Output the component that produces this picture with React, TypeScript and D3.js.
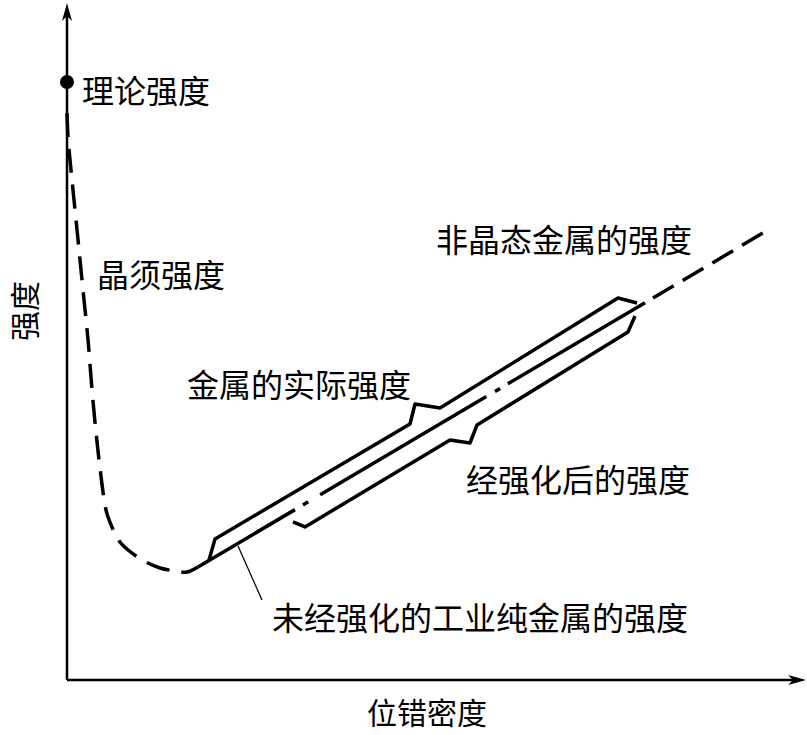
import React from "react";
import * as d3 from "d3";

// ---- data (arbitrary units: dislocation density on x, strength on y) ----
const xDomain: [number, number] = [0, 10];
const yDomain: [number, number] = [0, 10];

const theoreticalPoint: [number, number] = [0, 8.86];

// dashed curve: whisker strength falling to the minimum
const whiskerCurve: [number, number][] = [
  [0, 8.4], [0.014, 8.04], [0.041, 7.7], [0.081, 7.26], [0.149, 6.52],
  [0.216, 5.78], [0.284, 5.04], [0.338, 4.3], [0.392, 3.67], [0.446, 3.14],
  [0.514, 2.59], [0.554, 2.415], [0.716, 2.044], [0.878, 1.881], [1.095, 1.733],
  [1.257, 1.659], [1.459, 1.615], [1.622, 1.6], [1.77, 1.674],
];

// centre line of the band (pure industrial metal -> amorphous metal)
const centreSolid: [number, number][] = [[1.77, 1.674], [3.081, 2.524]];
const centreDashDot: [number, number][] = [[3.189, 2.594], [7.811, 5.589]];
const centreDashed: [number, number][] = [[7.919, 5.659], [9.432, 6.64]];

// upper outline: actual strength of metals
const actualUpper: [number, number][] = [
  [1.919, 1.778], [2.0, 2.089], [4.635, 3.793], [4.703, 4.089],
  [5.041, 4.03], [7.446, 5.659], [7.703, 5.585],
];

// lower outline: strength after strengthening
const strengthenedLower: [number, number][] = [
  [3.054, 2.341], [3.216, 2.267], [5.176, 3.556], [5.446, 3.511],
  [5.541, 3.778], [7.581, 5.156], [7.676, 5.393],
];

// leader line for the pure-metal label
const leader: [number, number][] = [[2.311, 1.985], [2.635, 1.185]];

const labels = [
  { text: "理论强度", x: 82, y: 89 },
  { text: "晶须强度", x: 97, y: 273 },
  { text: "非晶态金属的强度", x: 436, y: 238 },
  { text: "金属的实际强度", x: 187, y: 383 },
  { text: "经强化后的强度", x: 466, y: 478 },
  { text: "未经强化的工业纯金属的强度", x: 272, y: 616 },
];
const xAxisTitle = "位错密度";
const yAxisTitle = "强度";

export default function App() {
  const W = 807;
  const H = 735;
  const x = d3.scaleLinear().domain(xDomain).range([67, 807]);
  const y = d3.scaleLinear().domain(yDomain).range([680, 5]);

  const straight = d3
    .line<[number, number]>()
    .x((d) => x(d[0]))
    .y((d) => y(d[1]));
  const smooth = d3
    .line<[number, number]>()
    .x((d) => x(d[0]))
    .y((d) => y(d[1]))
    .curve(d3.curveCatmullRom.alpha(0.5));

  const x0 = x(xDomain[0]);
  const y0 = y(yDomain[0]);
  const yTop = y(yDomain[1]) - 2;
  const xRight = x(xDomain[1]) - 1;

  const font = "'Noto Sans CJK SC', 'Noto Sans', sans-serif";

  return (
    <svg
      width={W}
      height={H}
      style={{ position: "absolute", left: 0, top: 0, background: "#fff" }}
    >
      {/* axes */}
      <line x1={x0} y1={y0} x2={x0} y2={yTop + 12} stroke="#000" strokeWidth={2.5} />
      <line x1={x0} y1={y0} x2={xRight - 12} y2={y0} stroke="#000" strokeWidth={2.5} />
      <path
        d={`M${x0},${yTop} L${x0 - 5},${yTop + 18} L${x0},${yTop + 13} L${x0 + 5},${yTop + 18} Z`}
        fill="#000"
      />
      <path
        d={`M${xRight},${y0} L${xRight - 18},${y0 - 5} L${xRight - 13},${y0} L${xRight - 18},${y0 + 5} Z`}
        fill="#000"
      />

      {/* theoretical strength point */}
      <circle cx={x(theoreticalPoint[0])} cy={y(theoreticalPoint[1])} r={7} fill="#000" />

      {/* whisker dashed curve */}
      <path
        d={smooth(whiskerCurve) || ""}
        fill="none"
        stroke="#000"
        strokeWidth={3.5}
        strokeDasharray="24 12"
      />

      {/* centre line */}
      <path d={straight(centreSolid) || ""} fill="none" stroke="#000" strokeWidth={3.5} />
      <path
        d={straight(centreDashDot) || ""}
        fill="none"
        stroke="#000"
        strokeWidth={3.5}
        strokeDasharray="6 14 193 10 6 9 160"
      />
      <path
        d={straight(centreDashed) || ""}
        fill="none"
        stroke="#000"
        strokeWidth={3.5}
        strokeDasharray="24 10.5"
      />

      {/* band outlines */}
      <path
        d={straight(actualUpper) || ""}
        fill="none"
        stroke="#000"
        strokeWidth={3.5}
        strokeLinejoin="round"
      />
      <path
        d={straight(strengthenedLower) || ""}
        fill="none"
        stroke="#000"
        strokeWidth={3.5}
        strokeLinejoin="round"
      />

      {/* leader */}
      <path d={straight(leader) || ""} fill="none" stroke="#000" strokeWidth={1.3} />

      {/* labels */}
      {labels.map((l) => (
        <text
          key={l.text}
          x={l.x}
          y={l.y}
          fontFamily={font}
          fontSize={32}
          dominantBaseline="central"
          fill="#000"
        >
          {l.text}
        </text>
      ))}
      <text
        x={427}
        y={711}
        textAnchor="middle"
        fontFamily={font}
        fontSize={30}
        dominantBaseline="central"
      >
        {xAxisTitle}
      </text>
      <text
        transform="translate(23,311) rotate(-90)"
        textAnchor="middle"
        fontFamily={font}
        fontSize={30}
        dominantBaseline="central"
      >
        {yAxisTitle}
      </text>
    </svg>
  );
}
